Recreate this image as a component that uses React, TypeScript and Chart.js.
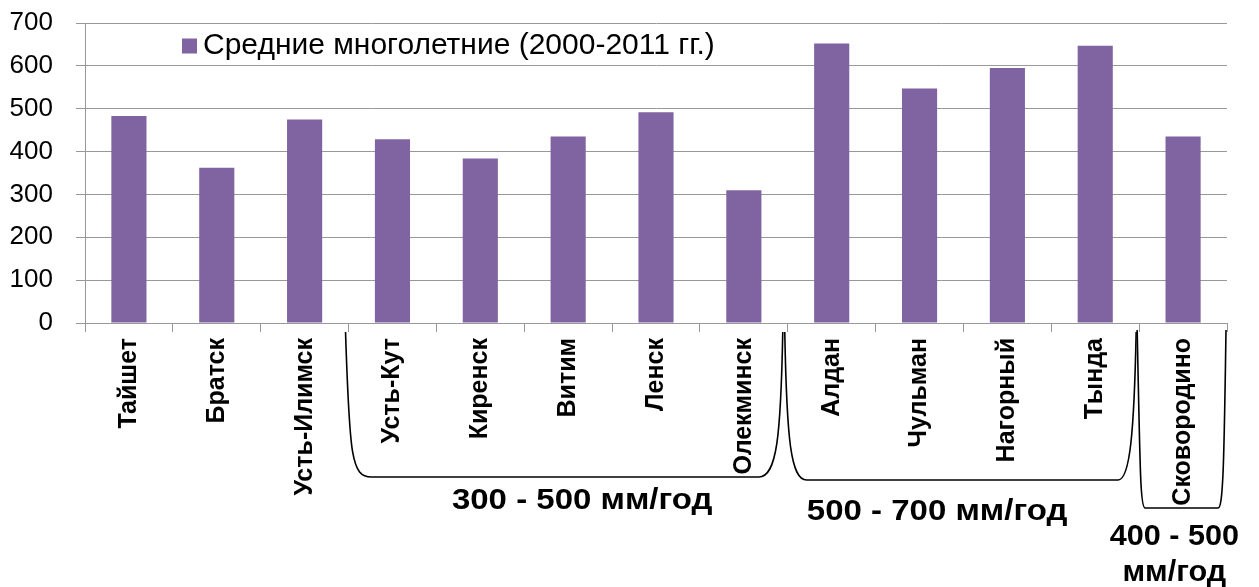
import React, { useEffect, useRef } from 'react';
import { Chart, registerables } from 'chart.js';

Chart.register(...registerables);

const categories = [
  'Тайшет', 'Братск', 'Усть-Илимск', 'Усть-Кут', 'Киренск', 'Витим', 'Ленск',
  'Олекминск', 'Алдан', 'Чульман', 'Нагорный', 'Тында', 'Сковородино',
];
const values = [483, 362, 475, 429, 384, 435, 492, 310, 652, 547, 595, 647, 435];
const seriesLabel = 'Средние многолетние (2000-2011 гг.)';
const yMin = 0;
const yMax = 700;
const yStep = 100;

// groups of stations (first index, last index) with their labels
const groupFirst = [3, 8, 12];
const groupLast = [7, 11, 12];
const groupLabels = [['300 - 500 мм/год'], ['500 - 700 мм/год'], ['400 - 500', 'мм/год']];

const BAR_COLOR = '#8064A2';
const GRID_COLOR = '#989898';
const FONT = "'Liberation Sans', Arial, sans-serif";

const annotationsPlugin = {
  id: 'annotations',
  afterDraw(chart: any) {
    const ctx = chart.ctx;
    const x = chart.scales.x;
    const area = chart.chartArea;
    const edge = (k: number) => x.getPixelForValue(k - 0.5);

    // legend (inside plot area)
    ctx.save();
    const lx = area.left + 97;
    const ly = area.top + 23;
    ctx.fillStyle = BAR_COLOR;
    ctx.fillRect(lx, ly - 7.5, 15, 15);
    ctx.fillStyle = '#000';
    ctx.font = `30px ${FONT}`;
    ctx.textAlign = 'left';
    ctx.textBaseline = 'middle';
    ctx.fillText(seriesLabel, lx + 21, ly);
    ctx.restore();

    // brackets
    const specs = [
      { dl: -3, dr: -5, top: 332, bottom: 477, lc: [4, 20, 6, 26], rc: [24, 6, 2, 40] },
      { dl: -3, dr: -3, top: 332, bottom: 480, lc: [2, 40, 6, 22], rc: [18, 6, 2, 50] },
      { dl: -2, dr: -1, top: 330, bottom: 508, lc: [3, 40, 3, 8], rc: [8, 3, 2, 40] },
    ];
    ctx.save();
    ctx.strokeStyle = '#000';
    ctx.lineWidth = 1.6;
    groupFirst.forEach((first, i) => {
      const s = specs[i];
      const L = edge(first) + s.dl;
      const R = edge(groupLast[i] + 1) + s.dr;
      const b = s.bottom;
      ctx.beginPath();
      ctx.moveTo(L, s.top);
      ctx.bezierCurveTo(L + s.lc[0], b - s.lc[1], L + s.lc[2], b, L + s.lc[3], b);
      ctx.lineTo(R - s.rc[0], b);
      ctx.bezierCurveTo(R - s.rc[1], b, R - s.rc[2], b - s.rc[3], R, s.top);
      ctx.stroke();
    });
    ctx.restore();

    // group labels
    const labelPos = [
      { at: 5.16, y: [501], sx: 1.1 },
      { at: 9.2, y: [512], sx: 1.1 },
      { at: 11.9, y: [537, 573], sx: 1.02 },
    ];
    ctx.save();
    ctx.fillStyle = '#000';
    ctx.font = `bold 30px ${FONT}`;
    ctx.textAlign = 'center';
    ctx.textBaseline = 'middle';
    groupLabels.forEach((lines, i) => {
      const p = labelPos[i];
      const cx = x.getPixelForValue(p.at);
      lines.forEach((t, j) => {
        ctx.save();
        ctx.translate(cx, p.y[j]);
        ctx.scale(p.sx, 1);
        ctx.fillText(t, 0, 0);
        ctx.restore();
      });
    });
    ctx.restore();
  },
};

export default function App() {
  const canvasRef = useRef<HTMLCanvasElement | null>(null);

  useEffect(() => {
    if (!canvasRef.current) return;
    const chart = new Chart(canvasRef.current, {
      type: 'bar',
      data: {
        labels: categories,
        datasets: [
          {
            label: seriesLabel,
            data: values,
            backgroundColor: BAR_COLOR,
            borderWidth: 0,
            categoryPercentage: 1,
            barPercentage: 0.4,
          },
        ],
      },
      options: {
        animation: false,
        responsive: true,
        maintainAspectRatio: false,
        layout: { padding: { top: 23, right: 32, left: 0, bottom: 0 } },
        plugins: {
          legend: { display: false },
          tooltip: { enabled: false },
        },
        scales: {
          x: {
            grid: {
              drawOnChartArea: false,
              drawTicks: true,
              tickLength: 9,
              color: GRID_COLOR,
              offset: true,
            },
            border: { color: GRID_COLOR },
            ticks: {
              autoSkip: false,
              minRotation: 90,
              maxRotation: 90,
              padding: 6,
              color: '#000',
              font: { family: FONT, size: 25, weight: 'bold' },
            },
            afterFit: (scale: any) => {
              scale.height = 264;
            },
          },
          y: {
            min: yMin,
            max: yMax,
            ticks: {
              stepSize: yStep,
              padding: 23,
              color: '#000',
              font: { family: FONT, size: 26 },
            },
            grid: { color: GRID_COLOR, tickLength: 9 },
            border: { color: GRID_COLOR },
            afterFit: (scale: any) => {
              scale.width = 85;
              scale.paddingTop = 0;
              scale.paddingBottom = 0;
            },
          },
        },
      },
      plugins: [annotationsPlugin],
    });
    return () => chart.destroy();
  }, []);

  return (
    <div style={{ position: 'fixed', left: 0, top: 0, width: 1259, height: 587, background: '#fff' }}>
      <canvas ref={canvasRef} />
    </div>
  );
}
